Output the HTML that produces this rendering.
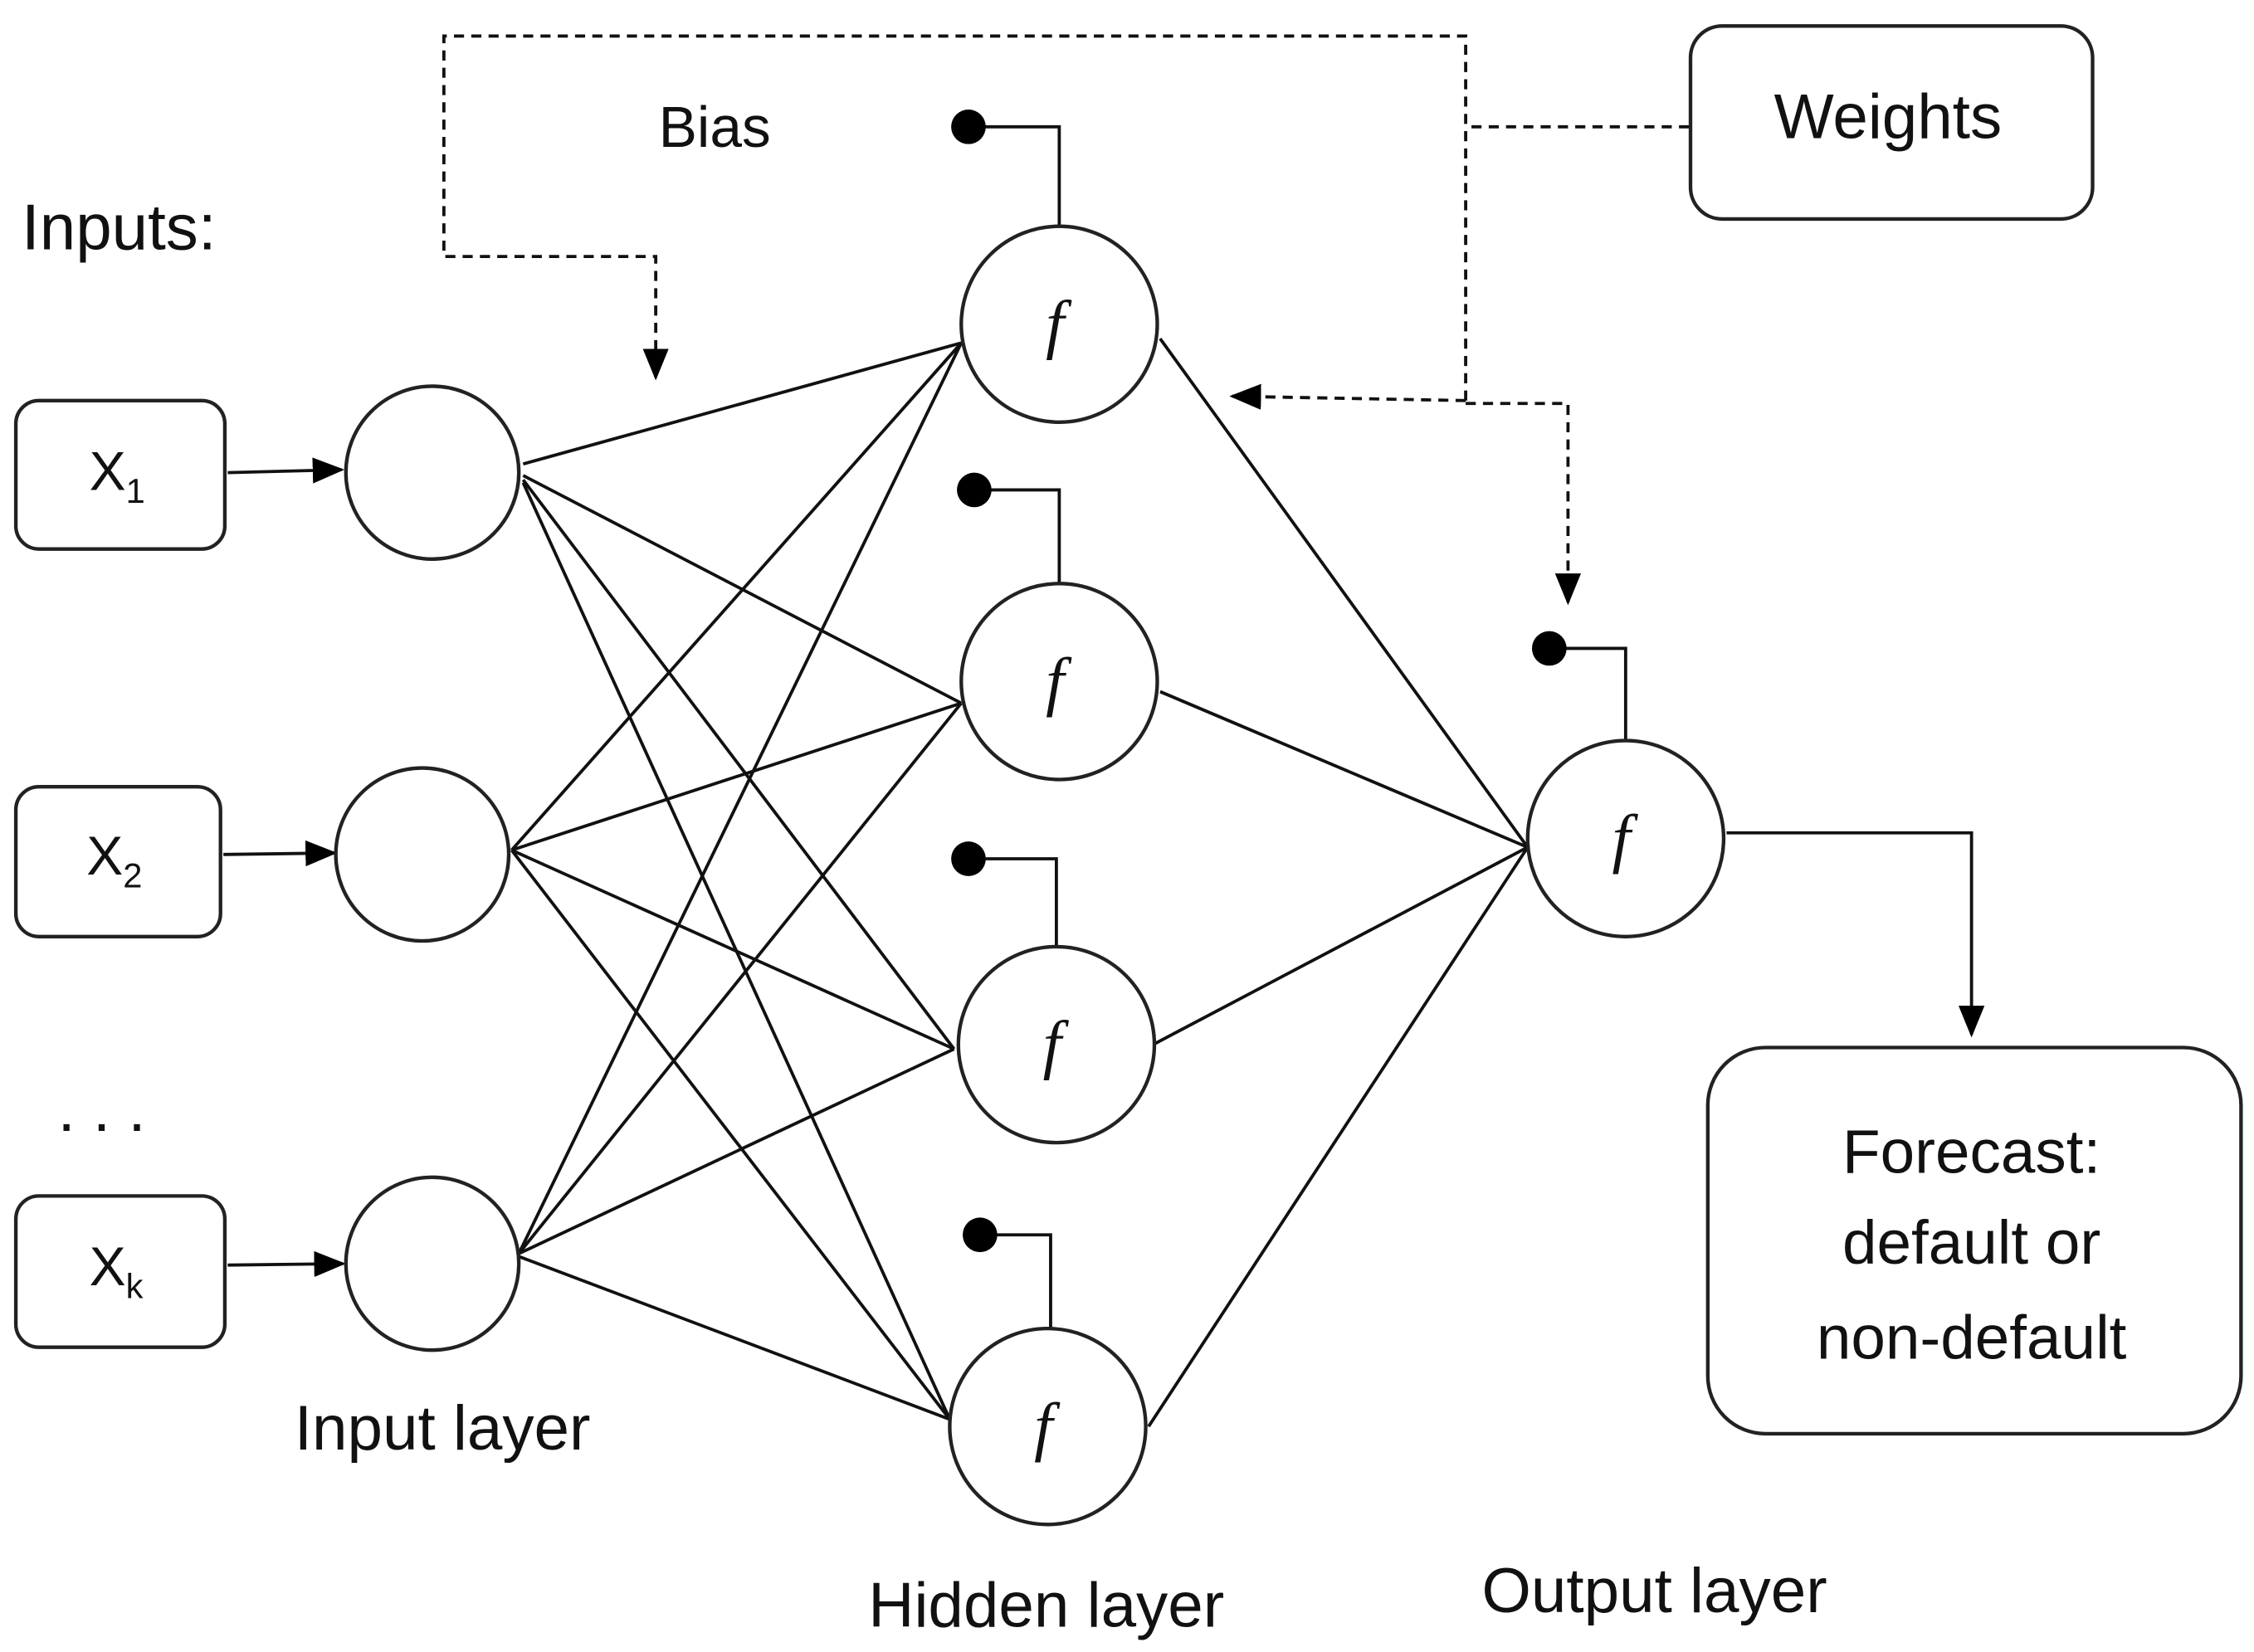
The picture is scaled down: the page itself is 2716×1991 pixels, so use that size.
<!DOCTYPE html>
<html><head><meta charset="utf-8"><style>
html,body{margin:0;padding:0;background:#fff;}
svg{display:block;}
text{font-family:"Liberation Sans",sans-serif;fill:#111;}
</style></head><body>
<svg width="2716" height="1991" viewBox="0 0 1564 1146.5" xmlns="http://www.w3.org/2000/svg">
<defs>
<marker id="b" markerWidth="22" markerHeight="22" refX="20" refY="11" orient="auto" markerUnits="userSpaceOnUse" viewBox="0 0 22 22"><path d="M0,2L22,11L0,20z" fill="#000"/></marker>
</defs>
<g stroke="#111" stroke-width="2.2" fill="none">
<g stroke-dasharray="7,5">
<polyline points="1017,278 1017,25 308,25 308,178 455,178 455,262" marker-end="url(#b)"/>
<line x1="1172" y1="88" x2="1017" y2="88"/>
<polyline points="1017,278 855,275" marker-end="url(#b)"/>
<polyline points="1017,280 1088,280 1088,418" marker-end="url(#b)"/>
</g>
<g>
<line x1="363" y1="322" x2="667" y2="238"/><line x1="363" y1="330" x2="667" y2="488"/><line x1="363" y1="333" x2="662" y2="728"/><line x1="363" y1="335" x2="659" y2="985"/>
<line x1="355" y1="590" x2="667" y2="238"/><line x1="355" y1="590" x2="667" y2="488"/><line x1="355" y1="590" x2="662" y2="728"/><line x1="355" y1="590" x2="659" y2="985"/>
<line x1="360" y1="870" x2="667" y2="238"/><line x1="360" y1="870" x2="667" y2="488"/><line x1="360" y1="870" x2="662" y2="728"/><line x1="360" y1="872" x2="659" y2="985"/>
<line x1="805" y1="235" x2="1060" y2="588"/><line x1="805" y1="480" x2="1060" y2="588"/><line x1="800" y1="725" x2="1060" y2="588"/><line x1="797" y1="990" x2="1060" y2="588"/>
</g>
<line x1="158" y1="328" x2="237" y2="326" marker-end="url(#b)"/>
<line x1="155" y1="593" x2="232" y2="592" marker-end="url(#b)"/>
<line x1="158" y1="878" x2="238" y2="877" marker-end="url(#b)"/>
<polyline points="1198,578 1368,578 1368,718" marker-end="url(#b)"/>
<polyline points="672,88 735,88 735,157"/><polyline points="676,340 735,340 735,405"/>
<polyline points="672,596 733,596 733,657"/><polyline points="680,857 729,857 729,922"/>
<polyline points="1075,450 1128,450 1128,514"/>
</g>
<g fill="#000"><circle cx="672" cy="88" r="12"/><circle cx="676" cy="340" r="12"/><circle cx="672" cy="596" r="12"/><circle cx="680" cy="857" r="12"/><circle cx="1075" cy="450" r="12"/></g>
<g stroke="#222" stroke-width="2.5" fill="#fff">
<rect x="11" y="278" width="145" height="103" rx="16"/>
<rect x="11" y="546" width="142" height="104" rx="16"/>
<rect x="11" y="830" width="145" height="105" rx="16"/>
<rect x="1173" y="18" width="279" height="134" rx="22"/>
<rect x="1185" y="727" width="370" height="268" rx="40"/>
<circle cx="300" cy="328" r="60"/><circle cx="293" cy="593" r="60"/><circle cx="300" cy="877" r="60"/>
<circle cx="735" cy="225" r="68"/><circle cx="735" cy="473" r="68"/><circle cx="733" cy="725" r="68"/><circle cx="727" cy="990" r="68"/>
<circle cx="1128" cy="582" r="68"/>
</g>
<g font-size="44">
<text x="15" y="173" font-size="45">Inputs:</text>
<text x="457" y="102" font-size="40">Bias</text>
<text x="1310" y="96" text-anchor="middle">Weights</text>
<text x="307" y="1006" text-anchor="middle">Input layer</text>
<text x="726" y="1129" text-anchor="middle">Hidden layer</text>
<text x="1148" y="1119" text-anchor="middle">Output layer</text>
<text x="1368" y="814" text-anchor="middle" font-size="43">Forecast:</text>
<text x="1368" y="877" text-anchor="middle" font-size="43">default or</text>
<text x="1368" y="943" text-anchor="middle" font-size="43">non-default</text>
<text x="40" y="785">. . .</text>
<text x="62" y="340" font-size="38">X<tspan font-size="24" dy="9">1</tspan></text>
<text x="60" y="607" font-size="38">X<tspan font-size="24" dy="9">2</tspan></text>
<text x="62" y="892" font-size="38">X<tspan font-size="24" dy="9">k</tspan></text>
</g>
<g font-style="italic" font-size="46">
<text x="732" y="240" text-anchor="middle" style="font-family:'Liberation Serif',serif">f</text>
<text x="732" y="488" text-anchor="middle" style="font-family:'Liberation Serif',serif">f</text>
<text x="730" y="740" text-anchor="middle" style="font-family:'Liberation Serif',serif">f</text>
<text x="724" y="1005" text-anchor="middle" style="font-family:'Liberation Serif',serif">f</text>
<text x="1125" y="597" text-anchor="middle" style="font-family:'Liberation Serif',serif">f</text>
</g>
</svg>
</body></html>
